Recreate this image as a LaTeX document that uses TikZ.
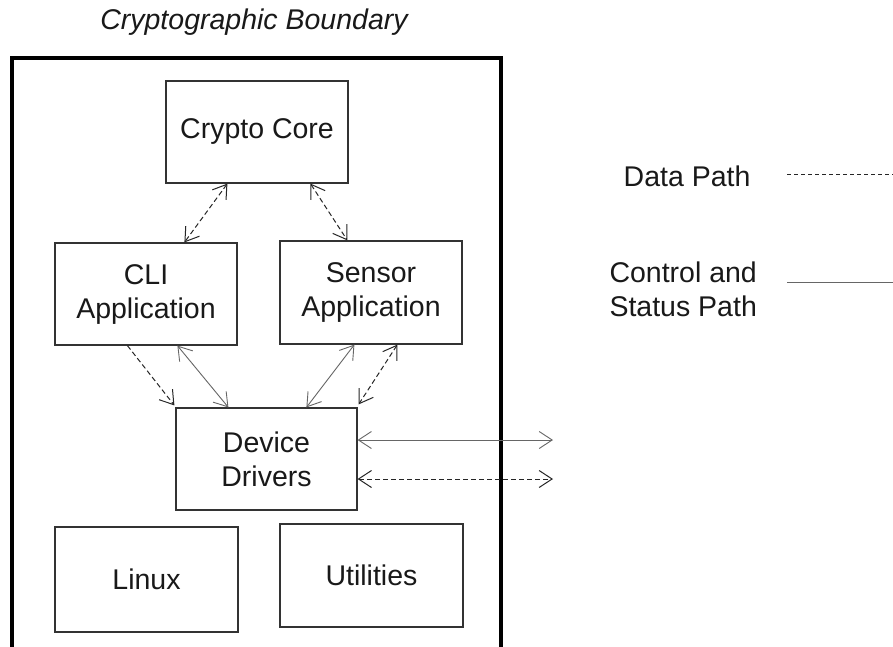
\documentclass[tikz,border=0pt]{standalone}
\usepackage{fontspec}
\setmainfont{Liberation Sans}
\usetikzlibrary{arrows.meta,calc}
\begin{document}
\begin{tikzpicture}[x=1pt,y=-1pt,
  every node/.style={font=\fontsize{28.5}{34}\selectfont, text=black!90},
  box/.style={draw=black!80, line width=1.2pt, inner sep=0pt, align=center},
  bound/.style={draw=black, line width=3.5pt},
  dataline/.style={draw=black!85, line width=1pt, dash pattern=on 5pt off 3pt},
  ctrlline/.style={draw=black!60, line width=0.9pt},
  legdata/.style={draw=black!85, line width=0.9pt, dash pattern=on 4pt off 3pt},
  tip/.style={arrows={-Straight Barb[length=13pt,width=17pt]}},
  tips/.style={arrows={Straight Barb[length=13pt,width=17pt]-Straight Barb[length=13pt,width=17pt]}}
]
\useasboundingbox (0,0) rectangle (893,646);
\fill[white] (0,0) rectangle (893,646);

% title and boundary
\node[font=\fontsize{28.5}{34}\selectfont\itshape] (title) at (254,22) {Cryptographic Boundary};
\draw[bound] (12,58) rectangle (501,660);

% boxes
\node[box, minimum width=182pt, minimum height=102pt] (core) at (257,132) {Crypto Core};
\node[box, minimum width=182pt, minimum height=102pt] (cli) at (146,294) {CLI\\Application};
\node[box, minimum width=182pt, minimum height=103pt] (sensor) at (371,292.5) {Sensor\\Application};
\node[box, minimum width=181pt, minimum height=102pt] (dd) at (266.5,459) {Device\\Drivers};
\node[box, minimum width=183pt, minimum height=105pt] (linux) at (146.5,579.5) {Linux};
\node[box, minimum width=183pt, minimum height=103pt] (util) at (371.5,575.5) {Utilities};

% connectors
\draw[dataline, tips] ([xshift=62pt]core.south west) -- ([xshift=130pt]cli.north west);
\draw[dataline, tips] ([xshift=145pt]core.south west) -- ([xshift=68pt]sensor.north west);
\draw[dataline, tip] ([xshift=73pt]cli.south west) -- ([xshift=-1pt,yshift=2pt]dd.north west);
\draw[ctrlline, tips] ([xshift=123pt]cli.south west) -- ([xshift=53pt]dd.north west);
\draw[ctrlline, tips] ([xshift=75pt]sensor.south west) -- ([xshift=131pt]dd.north west);
\draw[dataline, tips] ([xshift=118pt]sensor.south west) -- ([xshift=1pt,yshift=3pt]dd.north east);

\coordinate (ext1) at (553,440);
\coordinate (ext2) at (553,479);
\draw[ctrlline, tips] (dd.east |- ext1) -- (ext1);
\draw[dataline, tips] (dd.east |- ext2) -- (ext2);

% legend
\node[anchor=east] (ldata) at (754,176) {Data Path};
\node[anchor=west, align=left] (lctrl) at (606,289) {Control and\\Status Path};
\coordinate (ld1) at (787,174);
\coordinate (ld2) at (893,174);
\coordinate (lc1) at (787,282);
\coordinate (lc2) at (893,282);
\draw[legdata] (ld1) -- (ld2);
\draw[ctrlline] (lc1) -- (lc2);
\end{tikzpicture}
\end{document}
